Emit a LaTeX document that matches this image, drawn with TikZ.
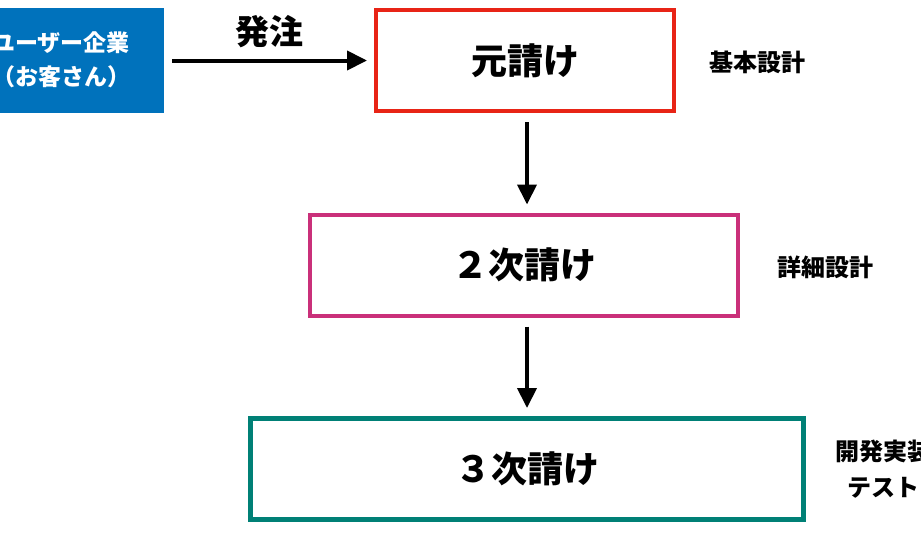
\documentclass[tikz,border=0pt]{standalone}
\usepackage{fontspec}
\setmainfont{Noto Sans CJK JP}
\usetikzlibrary{arrows.meta}
\definecolor{ublue}{RGB}{0,114,188}
\definecolor{ured}{RGB}{232,36,22}
\definecolor{umag}{RGB}{202,48,122}
\definecolor{uteal}{RGB}{0,128,118}
\tikzset{
  mainbox/.style={draw, line width=4pt, fill=white, minimum height=101pt, font=\fontsize{36}{42}\selectfont\bfseries, inner sep=0pt},
  sidelabel/.style={font=\fontsize{24}{36}\selectfont\bfseries, align=center, inner sep=0pt},
  flow/.style={line width=4pt, -{Triangle[length=20pt,width=19pt]}}
}
\begin{document}
\begin{tikzpicture}[x=1pt,y=1pt]
\clip (0,0) rectangle (921,-550);
\fill[white] (0,0) rectangle (921,-550);
% user box
\node[fill=ublue, minimum width=206pt, minimum height=105pt, inner sep=0pt, text=white,
      font=\fontsize{23}{34}\selectfont\bfseries, align=center] (user) at (61,-60)
      {ユーザー企業\\（お客さん）};
\node[mainbox, draw=ured, minimum width=298pt] (prime) at (525,-60.5) {元請け};
\node[mainbox, draw=umag, minimum width=428pt] (sub2) at (524,-265) {２次請け};
\node[mainbox, draw=uteal, line width=5pt, minimum width=553pt] (sub3) at (527,-469) {３次請け};
\node[sidelabel] (l1) at (757,-62) {基本設計};
\node[sidelabel] (l2) at (825,-267) {詳細設計};
\node[sidelabel] (l3) at (883,-469) {開発実装\\テスト};
\draw[flow, shorten <=8pt, shorten >=7pt] (user.east |- prime.west) -- node[above=11pt, font=\fontsize{34}{40}\selectfont\bfseries, inner sep=0pt] (order) {発注} (prime.west);
\draw[flow, shorten <=9pt, shorten >=8pt] (prime.south -| 527,0) -- (sub2.north -| 527,0);
\draw[flow, shorten <=9pt, shorten >=8pt] (sub2.south -| 527,0) -- (sub3.north -| 527,0);
\end{tikzpicture}
\end{document}
